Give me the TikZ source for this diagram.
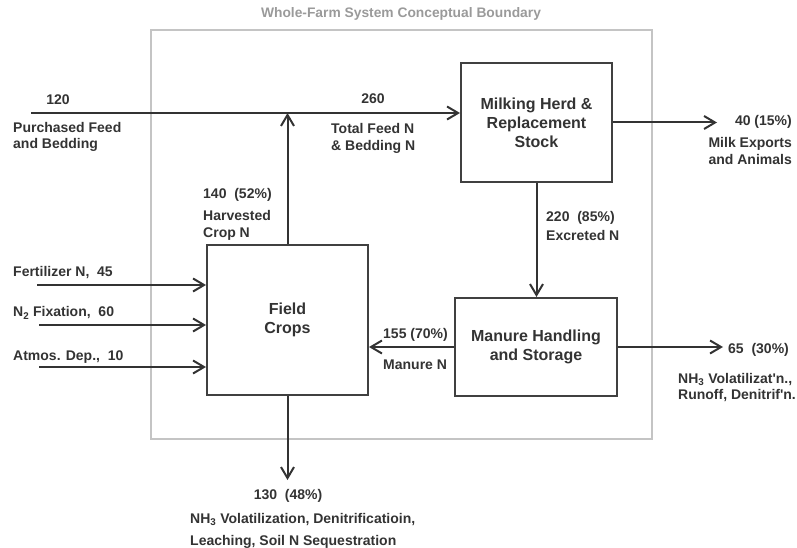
\documentclass[tikz,border=0pt]{standalone}
\usepackage{fontspec}
\setmainfont{Liberation Sans}
\usetikzlibrary{arrows.meta}
\definecolor{ink}{HTML}{333333}
\definecolor{edge}{HTML}{404040}
\definecolor{bnd}{HTML}{C4C4C4}
\definecolor{bndtext}{HTML}{9A9A9A}
\begin{document}
\begin{tikzpicture}[x=1pt,y=-1pt,
  boxnode/.style={draw=edge,line width=2pt,inner sep=0pt,align=center,text=ink,
    font=\bfseries\fontsize{16}{19}\selectfont},
  lbl/.style={inner sep=0pt,text=ink,font=\bfseries\fontsize{14}{16.5}\selectfont},
  flow/.style={draw=ink,line width=2pt,-{Straight Barb[length=11pt,width=13pt,line width=2pt]}},
  plain/.style={draw=ink,line width=2pt}]
\useasboundingbox (0,0) rectangle (797,548);
% boundary
\node[draw=bnd,line width=2pt,minimum width=501pt,minimum height=409pt,inner sep=0pt] (bound) at (401.5,234.5) {};
\node[inner sep=0pt,text=bndtext,font=\bfseries\fontsize{13.8}{15}\selectfont] (btitle) at (401,14) {Whole-Farm System Conceptual Boundary};
% boxes
\node[boxnode,minimum width=151pt,minimum height=119pt] (herd) at (536.5,122.5) {Milking Herd \&\\Replacement\\Stock};
\node[boxnode,minimum width=161pt,minimum height=150pt] (field) at (287.5,320) {Field\\Crops};
\node[boxnode,minimum width=162pt,minimum height=98pt] (manure) at (536,347) {Manure Handling\\and Storage};
% coordinates
\coordinate (pf) at (31,113);
\coordinate (join) at (287.5,113);
\coordinate (milk) at (717,122.5);
\coordinate (fert) at (37,285);
\coordinate (fix) at (39,325);
\coordinate (atm) at (39,367);
\coordinate (vol) at (723,347);
\coordinate (loss) at (287.5,480);
% connectors
\draw[plain] (pf) -- (join);
\draw[flow] (join) -- (join -| herd.west);
\draw[flow] (field.north) -- (join);
\draw[flow] (herd.south) -- (manure.north -| herd.south);
\draw[flow] (herd.east) -- (milk);
\draw[flow] (fert) -- (fert -| field.west);
\draw[flow] (fix) -- (fix -| field.west);
\draw[flow] (atm) -- (atm -| field.west);
\draw[flow] (manure.west) -- (manure.west -| field.east);
\draw[flow] (manure.east) -- (vol);
\draw[flow] (field.south) -- (loss);
% labels
\node[lbl] (l120) at (58,100) {120};
\node[lbl,anchor=north west,align=left] (lpf) at (13,122) {Purchased Feed\\and Bedding};
\node[lbl] (l260) at (373,99) {260};
\node[lbl,anchor=north west,align=left,font=\bfseries\fontsize{14}{17}\selectfont] (ltf) at (331,123) {Total Feed N\\\& Bedding N};
\node[lbl,anchor=west] (l140) at (203,195) {140\ \ (52\%)};
\node[lbl,anchor=north west,align=left,font=\bfseries\fontsize{14}{17}\selectfont] (lhc) at (203,210) {Harvested\\Crop N};
\node[lbl,anchor=west] (l220) at (546,218) {220\ \ (85\%)};
\node[lbl,anchor=west] (lex) at (546,235) {Excreted N};
\node[lbl,anchor=east] (l40) at (792,122) {40 (15\%)};
\node[lbl,anchor=north east,align=right,font=\bfseries\fontsize{14}{17}\selectfont] (lmilk) at (792,137) {Milk Exports\\and Animals};
\node[lbl,anchor=west] (lfert) at (13,273) {Fertilizer N,\ \ 45};
\node[lbl,anchor=west] (lfix) at (13,313) {N\textsubscript{2} Fixation,\ \ 60};
\node[lbl,anchor=west] (latm) at (13,357) {Atmos. Dep.,\ \ 10};
\node[lbl,anchor=west] (l155) at (383,335) {155 (70\%)};
\node[lbl,anchor=west] (lman) at (383,365) {Manure N};
\node[lbl,anchor=west] (l65) at (728,350) {65\ \ (30\%)};
\node[lbl,anchor=north west,align=left] (lvol) at (678,373) {NH\textsubscript{3} Volatilizat\textquotesingle n.,\\Runoff, Denitrif\textquotesingle n.};
\node[lbl] (l130) at (288,496) {130\ \ (48\%)};
\node[lbl,anchor=north west,align=left,font=\bfseries\fontsize{14}{22}\selectfont] (lloss) at (190,513) {NH\textsubscript{3} Volatilization, Denitrificatioin,\\Leaching, Soil N Sequestration};
\end{tikzpicture}
\end{document}
